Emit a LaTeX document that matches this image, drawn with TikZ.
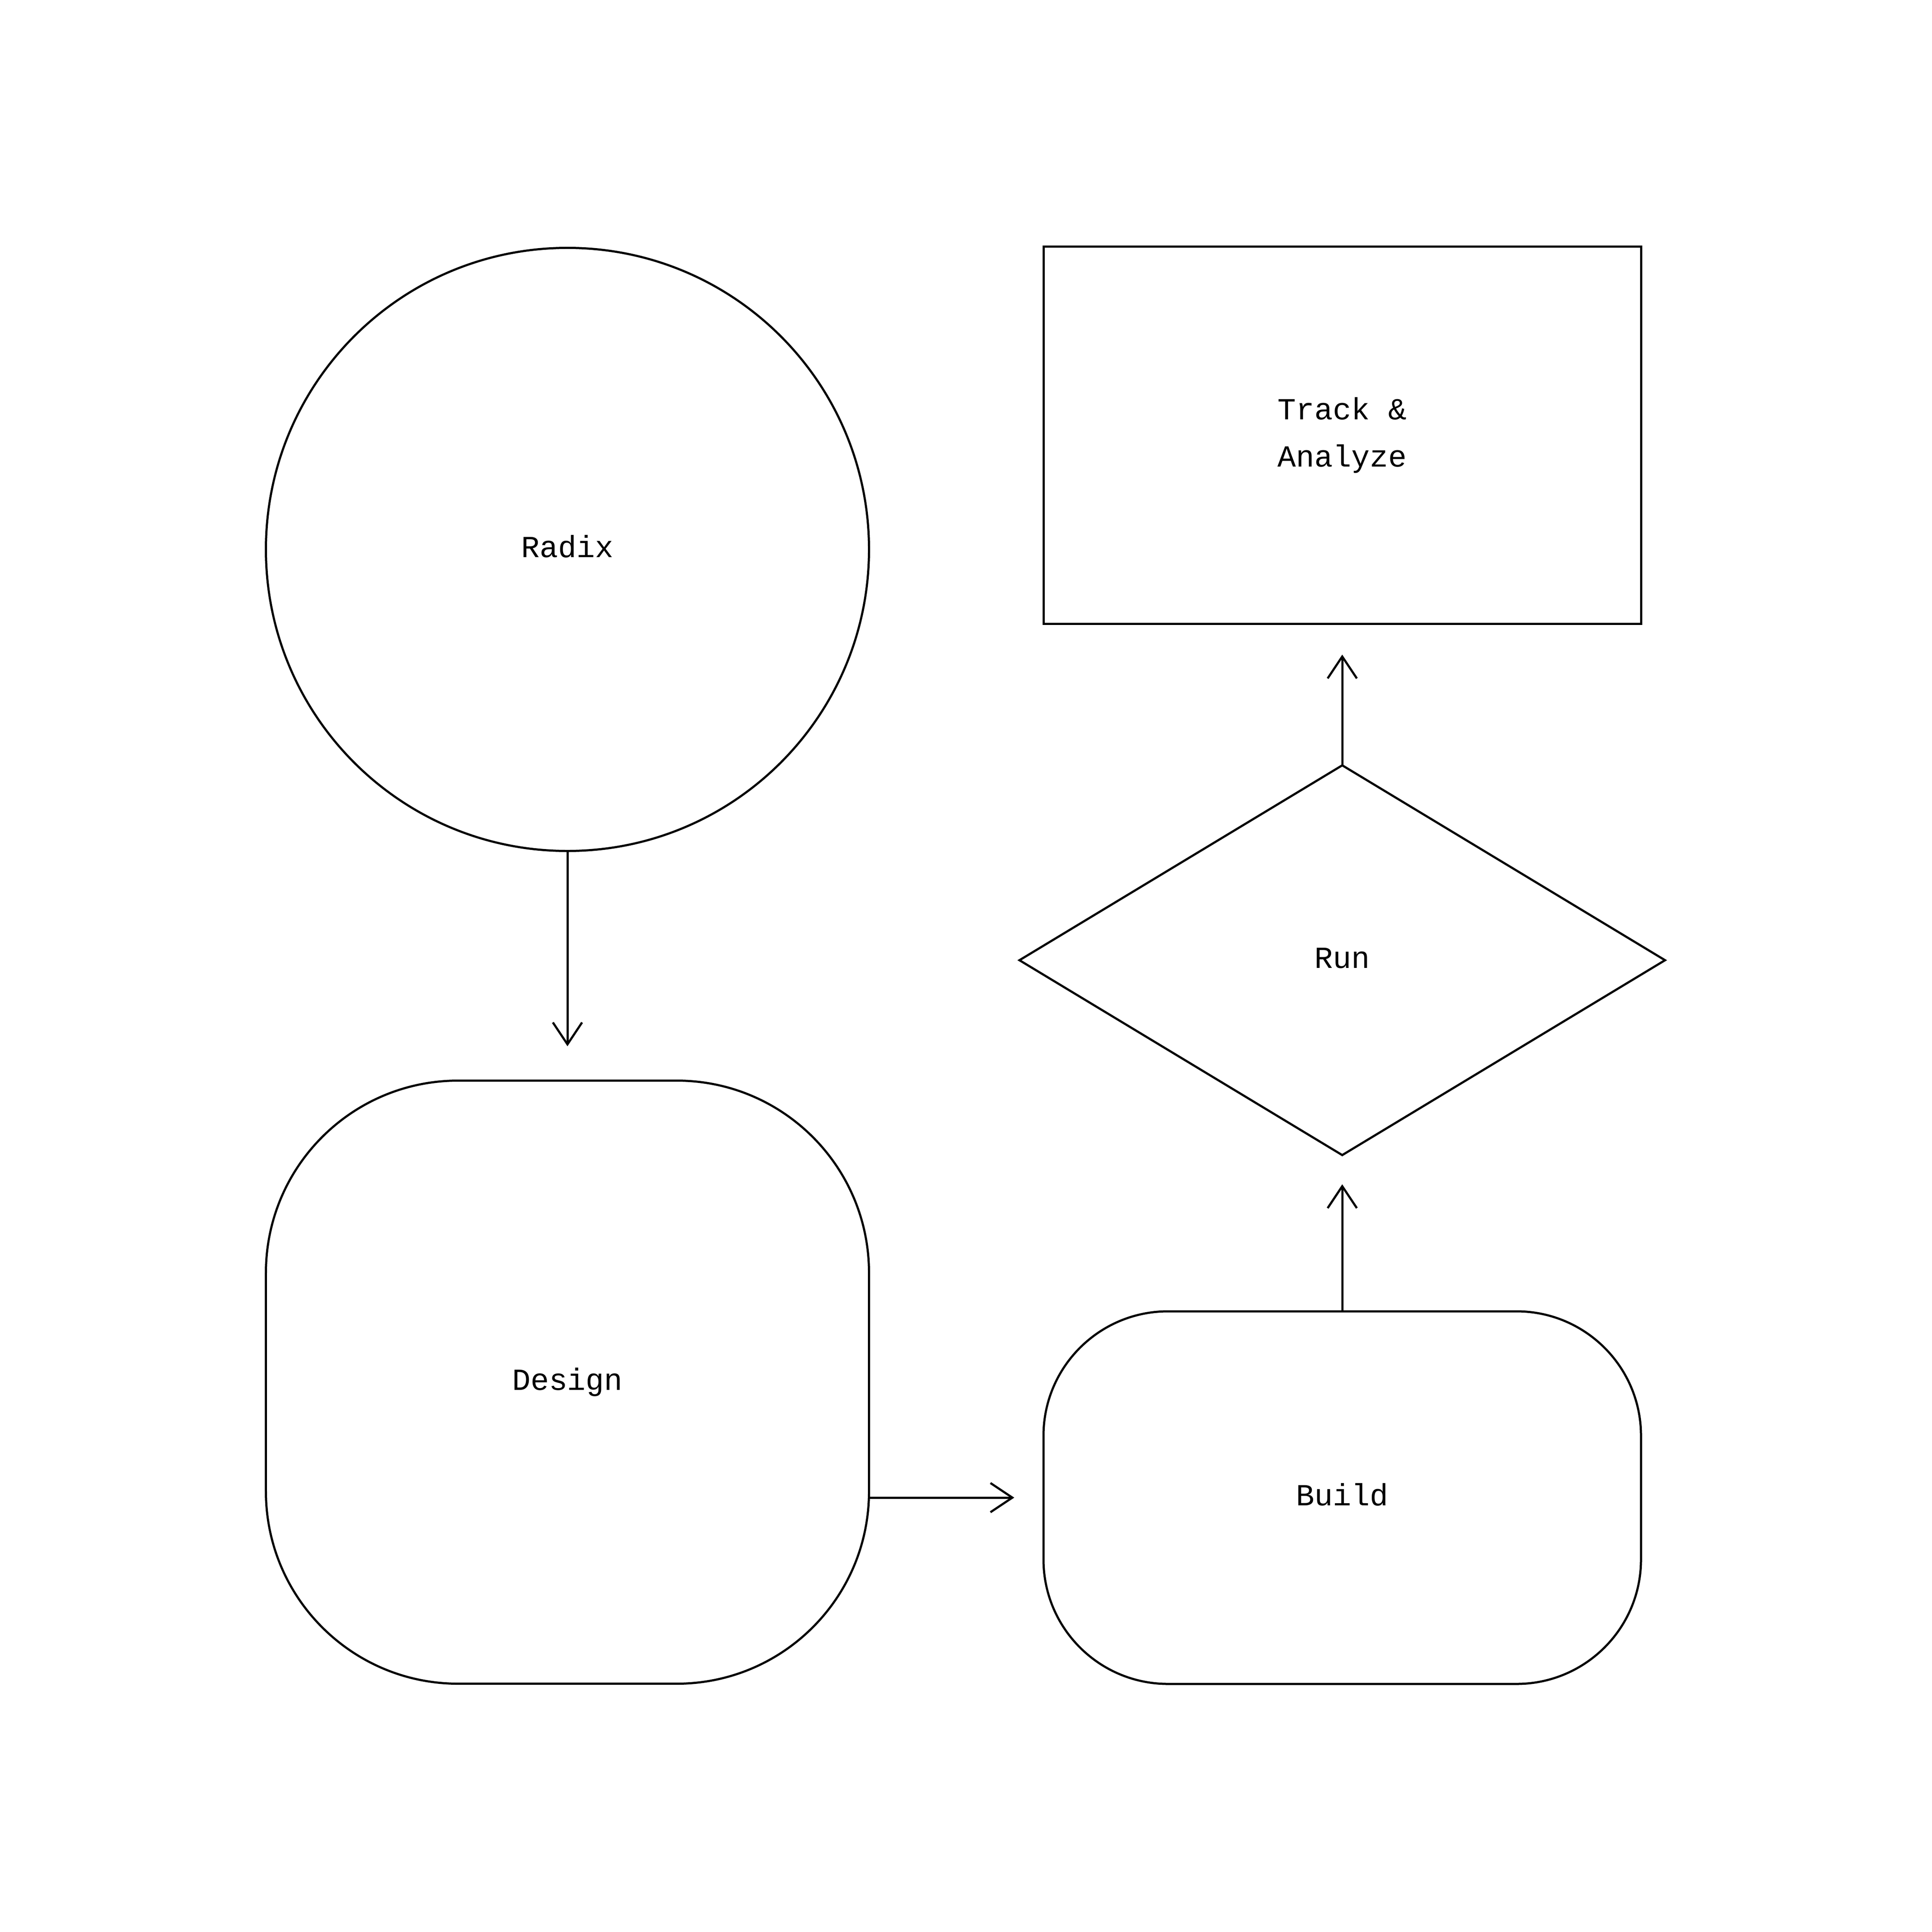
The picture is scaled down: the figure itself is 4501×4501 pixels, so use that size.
\documentclass[tikz,border=0pt]{standalone}
\usepackage{fontspec}
\newfontfamily\labelfont{Liberation Mono}
\usetikzlibrary{shapes.geometric,arrows.meta}
\begin{document}
\begin{tikzpicture}[x=0.2pt,y=-0.2pt,
  every node/.style={inner sep=0pt,outer sep=0pt,line width=1pt,draw=black,
    font=\labelfont\fontsize{14.3}{22}\selectfont,align=center},
  oneline/.style={text height=10.5pt,text depth=3pt},
  arr/.style={line width=1pt,-{Straight Barb[length=10.2pt,width=13.6pt,line width=1pt]}}]
\useasboundingbox (0,0) rectangle (4501,4501);
\node[circle,oneline,minimum size=281pt] (radix) at (1322,1280) {Radix};
\node[rectangle,oneline,minimum width=281pt,minimum height=281pt,rounded corners=89.6pt] (design) at (1322,3220) {Design};
\node[rectangle,minimum width=278.4pt,minimum height=175.6pt] (track) at (3127,1014) {Track \&\\Analyze};
\node[diamond,oneline,minimum width=300.8pt,minimum height=181.6pt] (run) at (3127,2237) {Run};
\node[rectangle,oneline,minimum width=278.4pt,minimum height=173.6pt,rounded corners=58pt] (build) at (3127,3489) {Build};
\draw[arr,shorten >=16pt] (radix.south) -- (design.north);
\draw[arr,shorten >=13.6pt] (design.east |- build.west) -- (build.west);
\draw[arr,shorten >=13.6pt] (build.north) -- (run.south);
\draw[arr,shorten >=14.4pt] (run.north) -- (track.south);
\end{tikzpicture}
\end{document}
